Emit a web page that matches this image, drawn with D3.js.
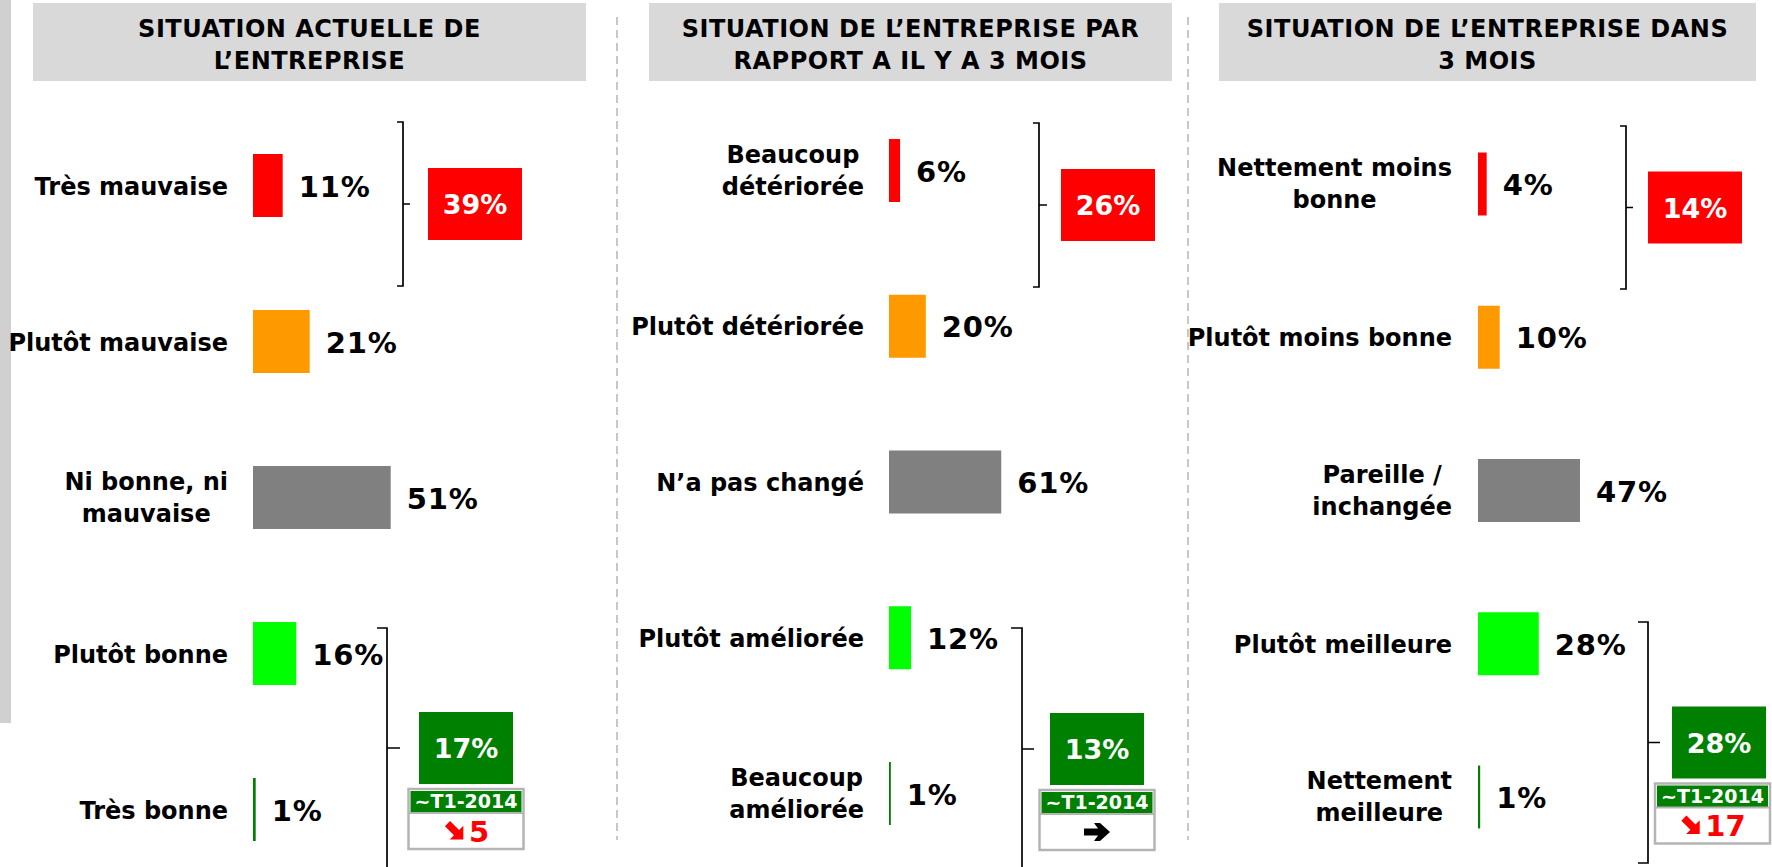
<!DOCTYPE html>
<html lang="fr">
<head>
<meta charset="UTF-8">
<title>Situation de l'entreprise</title>
<script src="https://d3js.org/d3.v7.min.js"></script>
<style>
  body { margin: 0; background: #fff; }
  svg text { font-family: "DejaVu Sans", sans-serif; font-weight: bold; }
</style>
</head>
<body>
<script>
// ---- data ----
const titles = [
  ["SITUATION ACTUELLE DE", "L\u2019ENTREPRISE"],
  ["SITUATION DE L\u2019ENTREPRISE PAR", "RAPPORT A IL Y A 3 MOIS"],
  ["SITUATION DE L\u2019ENTREPRISE DANS", "3 MOIS"]
];
const categories = [
  ["Très mauvaise", "Plutôt mauvaise", "Ni bonne, ni\nmauvaise", "Plutôt bonne", "Très bonne"],
  ["Beaucoup\ndétériorée", "Plutôt détériorée", "N\u2019a pas changé", "Plutôt améliorée", "Beaucoup\naméliorée"],
  ["Nettement moins\nbonne", "Plutôt moins bonne", "Pareille /\ninchangée", "Plutôt meilleure", "Nettement\nmeilleure"]
];
const values = [
  [11, 21, 51, 16, 1],
  [6, 20, 61, 12, 1],
  [4, 10, 47, 28, 1]
];
const barColors = ["#ff0000", "#ff9900", "#808080", "#00ff00", "#008000"];
const negTotals = [39, 26, 14];
const posTotals = [17, 13, 28];
const trendLabel = "~T1-2014";
const trendArrows = ["down", "flat", "down"];
const trendDeltas = ["5", "", "17"];

// ---- layout (pixels) ----
const width = 1772, height = 867;
const layout = [
  { boxX: 33, boxW: 553, labelRight: 228, barX: 253, px100: 270, yFirst: 185.5, yLast: 809.5,
    neg: { x: 403, y1: 122, y2: 286, hook: 6, tick: 7, boxX: 428 },
    pos: { x: 387, y1: 628, y2: 868, hook: 10, tick: 13, boxX: 419 } },
  { boxX: 649, boxW: 523, labelRight: 864, barX: 889, px100: 184, yFirst: 170.5, yLast: 793.5,
    neg: { x: 1039, y1: 123, y2: 287, hook: 6, tick: 8, boxX: 1061 },
    pos: { x: 1022, y1: 628, y2: 870, hook: 11, tick: 12, boxX: 1050 } },
  { boxX: 1219, boxW: 537, labelRight: 1452, barX: 1478, px100: 217, yFirst: 184, yLast: 797,
    neg: { x: 1626, y1: 126, y2: 289, hook: 6, tick: 7, boxX: 1648 },
    pos: { x: 1648, y1: 622, y2: 863, hook: 10, tick: 12, boxX: 1672 } }
];
const dividers = [617, 1188];
const barH = 63, totW = 94, totH = 72;

// heavy arrows, centred on 0,0
const arrowFlat = "M-13,-3.5H1L-3,-9H3L13,0L3,9H-3L1,3.5H-13Z";
const arrowDown = "M-14,-4.5H2V-12L14,0L2,12V4.5H-14Z";

const svg = d3.select("body").append("svg")
  .attr("width", width)
  .attr("height", height);

// left grey strip
svg.append("rect").attr("x", 0).attr("y", 0).attr("width", 11).attr("height", 723).attr("fill", "#d0d0d0");

// dashed panel separators
svg.selectAll(".sep").data(dividers).join("line")
  .attr("class", "sep")
  .attr("x1", d => d).attr("x2", d => d)
  .attr("y1", 17).attr("y2", 840)
  .attr("stroke", "#c8c8c8").attr("stroke-width", 2)
  .attr("stroke-dasharray", "8,5");

layout.forEach((L, p) => {
  const g = svg.append("g");

  // title
  g.append("rect").attr("x", L.boxX).attr("y", 3).attr("width", L.boxW).attr("height", 78).attr("fill", "#d9d9d9");
  g.append("text")
    .attr("text-anchor", "middle")
    .attr("font-size", 24)
    .attr("letter-spacing", 0.5)
    .selectAll("tspan").data(titles[p]).join("tspan")
    .attr("x", L.boxX + L.boxW / 2)
    .attr("y", (d, i) => 37 + i * 32)
    .text(d => d);

  const x = d3.scaleLinear().domain([0, 100]).range([L.barX, L.barX + L.px100]);
  const y = d3.scalePoint().domain(categories[p]).range([L.yFirst, L.yLast]);
  const rows = categories[p].map((c, i) => ({ cat: c, v: values[p][i], color: barColors[i] }));

  // bars
  g.selectAll(".bar").data(rows).join("rect")
    .attr("class", "bar")
    .attr("x", x(0))
    .attr("y", d => y(d.cat) - barH / 2)
    .attr("width", d => x(d.v) - x(0))
    .attr("height", barH)
    .attr("fill", d => d.color);

  // values
  g.selectAll(".val").data(rows).join("text")
    .attr("class", "val")
    .attr("x", d => x(d.v) + 16)
    .attr("y", d => y(d.cat) + 11)
    .attr("font-size", 29)
    .attr("letter-spacing", 0.8)
    .text(d => d.v + "%");

  // category labels (multi-line ones centred, right edge aligned)
  rows.forEach(d => {
    const lines = d.cat.split("\n");
    const t = g.append("text").attr("font-size", 24);
    if (lines.length === 1) {
      t.attr("text-anchor", "end").attr("x", L.labelRight).attr("y", y(d.cat) + 9).text(d.cat);
    } else {
      const tsp = t.selectAll("tspan").data(lines).join("tspan")
        .attr("y", (s, i) => y(d.cat) - 8 + i * 32)
        .text(s => s);
      const maxW = d3.max(tsp.nodes(), n => n.getComputedTextLength());
      t.attr("text-anchor", "middle");
      tsp.attr("x", L.labelRight - maxW / 2);
    }
  });

  // brackets + totals
  const drawBracket = (b, total, color) => {
    const mid = (b.y1 + b.y2) / 2;
    g.append("path")
      .attr("d", `M${b.x - b.hook},${b.y1} H${b.x} V${b.y2} H${b.x - b.hook} M${b.x},${mid} H${b.x + b.tick}`)
      .attr("fill", "none").attr("stroke", "#000").attr("stroke-width", 1.7);
    g.append("rect").attr("x", b.boxX).attr("y", mid - totH / 2).attr("width", totW).attr("height", totH).attr("fill", color);
    g.append("text")
      .attr("x", b.boxX + totW / 2).attr("y", mid + 10)
      .attr("text-anchor", "middle").attr("font-size", 27).attr("fill", "#fff")
      .text(total + "%");
    return { cx: b.boxX + totW / 2, bottom: mid + totH / 2 };
  };
  drawBracket(L.neg, negTotals[p], "#ff0000");
  const pb = drawBracket(L.pos, posTotals[p], "#008000");

  // trend box (kept inside the page on the right)
  const tw = 115, th = 60, hh = 24;
  const tx = Math.min(pb.cx - tw / 2, width - tw - 2), ty = pb.bottom + 5;
  g.append("rect").attr("x", tx).attr("y", ty).attr("width", tw).attr("height", th)
    .attr("fill", "#fff").attr("stroke", "#b4b4b4").attr("stroke-width", 2.5);
  g.append("rect").attr("x", tx + 2).attr("y", ty + 2).attr("width", tw - 4).attr("height", hh - 2).attr("fill", "#008000");
  g.append("line").attr("x1", tx).attr("x2", tx + tw).attr("y1", ty + hh).attr("y2", ty + hh)
    .attr("stroke", "#b4b4b4").attr("stroke-width", 2);
  g.append("text")
    .attr("x", tx + tw / 2).attr("y", ty + hh - 5)
    .attr("text-anchor", "middle").attr("font-size", 19).attr("fill", "#fff")
    .text(trendLabel);

  const rowMid = ty + hh + (th - hh) / 2;
  const flat = trendArrows[p] === "flat";
  const col = flat ? "#000" : "#ff0000";
  const num = g.append("text")
    .attr("y", rowMid + 10.5)
    .attr("font-size", 29).attr("fill", col)
    .text(trendDeltas[p]);
  const numW = trendDeltas[p] ? num.node().getComputedTextLength() : 0;
  const arrW = flat ? 26 : 23, gap = numW ? 3 : 0;
  const left = tx + tw / 2 - (arrW + gap + numW) / 2;
  num.attr("x", left + arrW + gap);
  g.append("path")
    .attr("d", flat ? arrowFlat : arrowDown)
    .attr("fill", col)
    .attr("transform", flat
      ? `translate(${left + arrW / 2},${rowMid})`
      : `translate(${left + arrW / 2 + 1},${rowMid + 0.5}) rotate(45) scale(0.8)`);
});
</script>
</body>
</html>
